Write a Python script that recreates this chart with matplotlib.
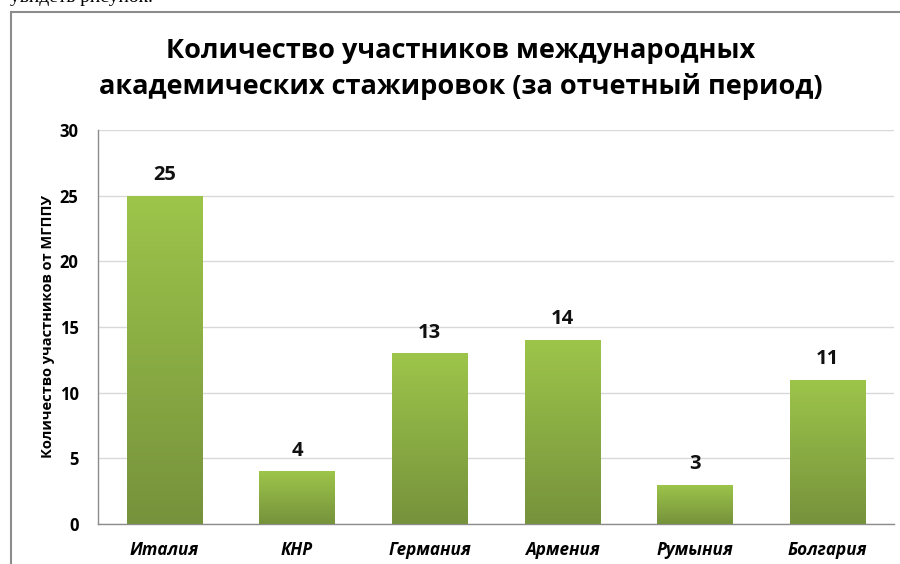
import numpy as np
import matplotlib
matplotlib.use('Agg')
import matplotlib.pyplot as plt
from matplotlib.patches import Rectangle
from matplotlib.colors import LinearSegmentedColormap

countries = ['Италия', 'КНР', 'Германия', 'Армения', 'Румыния', 'Болгария']
participants = [25, 4, 13, 14, 3, 11]
yticks = [0, 5, 10, 15, 20, 25, 30]

title = 'Количество участников международных\nакадемических стажировок (за отчетный период)'
ylabel = 'Количество участников от МГППУ'

plt.rcParams['font.family'] = ['Open Sans', 'DejaVu Sans']

fig = plt.figure(figsize=(9, 5.64), dpi=100)
ax = fig.add_axes([98 / 900, 1 - 524 / 564, 796 / 900, 394 / 564])

# outer chart frame (cut by the screenshot on the right and bottom)
fig.patches.append(Rectangle((11 / 900, -0.1), 1.2, 1 - 12 / 564 + 0.1,
                             transform=fig.transFigure, fill=False,
                             edgecolor='#8c8c8c', linewidth=1.5))
fig.text(10 / 900, 1 - 2 / 564, 'увидеть рисунок.', family='Liberation Serif',
         fontsize=14, va='baseline', ha='left')

x = np.arange(len(countries))
bars = ax.bar(x, participants, width=0.57, color='none', edgecolor='none', zorder=3)

green = LinearSegmentedColormap.from_list('g', ['#76923c', '#9dc54a'])
grad = np.linspace(0, 1, 256).reshape(-1, 1)
for b in bars:
    x0, w, h = b.get_x(), b.get_width(), b.get_height()
    im = ax.imshow(grad, cmap=green, origin='lower', aspect='auto',
                   extent=(x0, x0 + w, 0, h), zorder=3)
    im.set_clip_path(b)
    ax.text(x0 + w / 2, h + 1.2, str(h if h % 1 else int(h)), ha='center',
            va='baseline', fontsize=14.5, fontweight='bold', color='#111111')

ax.set_xlim(-0.5, len(countries) - 0.5)
ax.set_ylim(0, 30)
ax.set_yticks(yticks)
ax.set_yticklabels([str(t) for t in yticks], fontsize=12, fontweight='bold')
ax.set_xticks(x)
ax.set_xticklabels(countries, fontsize=12.3, fontweight='bold', style='italic')
ax.tick_params(axis='y', length=0, pad=14)
ax.tick_params(axis='x', length=0, pad=12)
ax.grid(axis='y', color='#d9d9d9', linewidth=1, zorder=0)
ax.set_axisbelow(True)
for s in ['top', 'right']:
    ax.spines[s].set_visible(False)
for s in ['left', 'bottom']:
    ax.spines[s].set_color('#8c8c8c')
    ax.spines[s].set_linewidth(1)

ax.set_ylabel(ylabel, fontsize=10.5, fontweight='bold', labelpad=3)
fig.text(461 / 900, 1 - 69 / 564, title, ha='center', va='center', fontsize=19.5,
         fontweight='bold', linespacing=1.45)

fig.savefig('out.png', dpi=100)
